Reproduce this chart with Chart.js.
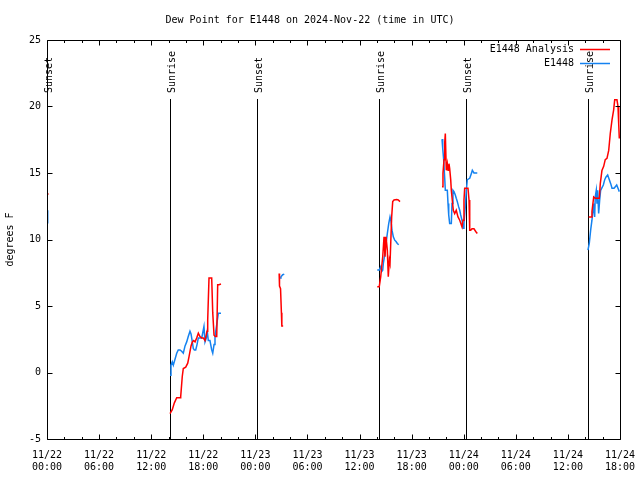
<!DOCTYPE html>
<html>
<head>
<meta charset="utf-8">
<script src="https://cdn.jsdelivr.net/npm/chart.js@4/dist/chart.umd.min.js"></script>
<style>
  html, body { margin: 0; padding: 0; background: #fff; }
  #wrap { width: 640px; height: 480px; }
</style>
</head>
<body>
<div id="wrap"><canvas id="dewChart" width="640" height="480"></canvas></div>
<script>
// hours since 11/22 00:00 UTC, null = gap between pieces of data
const analysisHours = [
  0.0, 0.08, null,
  14.17, 14.43, 14.66, 14.94, 15.32, 15.40, 15.58, 15.70, 15.98, 16.21, 16.36, 16.59, 16.74, 16.90, 17.05,
  17.24, 17.43, 17.62, 17.82, 18.00, 18.20, 18.43, 18.51, 18.66, 18.97, 19.09, 19.24, 19.40, 19.55, 19.66, 19.81, 20.04, null,
  26.74, 26.78, 26.90, 27.00, 27.05, 27.20, null,
  38.04, 38.27, 38.44, 38.55, 38.67, 38.82, 38.93, 39.05, 39.20, 39.31, 39.43, 39.51, 39.70, 39.82, 39.97, 40.28, 40.46, 40.66, null,
  45.50, 45.61, 45.73, 45.81, 45.88, 45.99, 46.11, 46.19, 46.30, 46.38, 46.50, 46.57, 46.68, 46.80, 46.96, 47.14, 47.34, 47.54,
  47.80, 47.92, 48.03, 48.11, 48.30, 48.49, 48.61, 48.69, 48.80, 48.95, 49.18, 49.38, 49.56, null,
  62.39, 62.66, 62.77, 62.97, 63.15, 63.35, 63.61, 63.73, 63.92, 64.12, 64.30, 64.50, 64.70, 64.88, 65.08, 65.27, 65.39, 65.65,
  65.77, 65.85, 65.92
];
const analysisValues = [
  13.4, 13.5, null,
  -3.1, -2.8, -2.3, -1.9, -1.9, -1.8, -0.3, 0.3, 0.4, 0.7, 1.2, 2.0, 2.3, 2.4, 2.3,
  2.6, 2.95, 2.7, 2.6, 2.6, 2.4, 3.1, 3.95, 7.1, 7.1, 4.5, 2.8, 2.7, 2.7, 6.6, 6.6, 6.65, null,
  7.45, 6.5, 6.3, 4.5, 3.5, 3.5, null,
  6.45, 6.45, 7.2, 7.95, 8.7, 10.2, 8.7, 10.2, 9.2, 7.2, 8.45, 8.2, 11.7, 12.85, 12.97, 13.0, 12.97, 12.85, null,
  13.97, 14.97, 16.0, 17.3, 17.97, 15.2, 15.7, 15.2, 15.7, 15.35, 14.5, 13.7, 12.97, 12.2, 11.95, 12.2, 11.7, 11.45,
  10.95, 11.45, 12.97, 13.85, 13.85, 13.85, 12.97, 10.7, 10.7, 10.8, 10.8, 10.6, 10.45, null,
  11.7, 11.7, 12.1, 13.2, 13.1, 13.1, 13.1, 14.2, 15.2, 15.5, 16.0, 16.1, 16.7, 17.97, 19.0, 19.75, 20.5, 20.5,
  20.0, 18.7, 17.6
];

const obsHours = [
  0.0, 0.08, null,
  14.17, 14.28, 14.43, 14.55, 14.94, 15.12, 15.32, 15.51, 15.70, 15.90, 16.09, 16.27, 16.47, 16.59, 16.74, 16.85, 16.97,
  17.13, 17.28, 17.43, 17.62, 17.82, 17.93, 18.08, 18.20, 18.35, 18.46, 18.58, 18.77, 18.97, 19.09, 19.24, 19.35, 19.55,
  19.73, 20.04, null,
  26.84, 26.95, 27.15, 27.33, null,
  38.04, 38.27, 38.44, 38.55, 38.67, 38.74, 38.93, 39.05, 39.20, 39.36, 39.51, 39.63, 39.74, 39.89, 40.05, 40.20, 40.35, 40.51, null,
  45.50, 45.58, 45.69, 45.81, 45.88, 46.11, 46.19, 46.27, 46.38, 46.57, 46.65, 46.76, 46.88, 47.03, 47.14, 47.26, 47.42, 47.54,
  47.65, 47.80, 47.92, 48.03, 48.18, 48.30, 48.41, 48.69, 48.87, 48.99, 49.18, 49.56, null,
  62.31, 62.46, 62.62, 62.77, 62.89, 62.97, 63.08, 63.15, 63.27, 63.35, 63.43, 63.54, 63.66, 63.77, 64.08, 64.24, 64.39, 64.58,
  64.77, 64.93, 65.08, 65.31, 65.46, 65.62, 65.77, 65.92
];
const obsValues = [
  12.2, 11.2, null,
  -0.2, 0.55, 0.8, 0.55, 1.45, 1.7, 1.7, 1.6, 1.45, 2.0, 2.3, 2.7, 3.1, 2.9, 2.3, 1.8, 1.7,
  1.7, 2.1, 2.6, 2.6, 2.6, 2.95, 3.45, 2.3, 2.6, 3.1, 2.4, 2.4, 1.7, 1.45, 2.1, 2.7, 3.6,
  4.45, 4.45, null,
  7.1, 7.2, 7.35, 7.4, null,
  7.7, 7.7, 7.95, 7.6, 7.7, 8.2, 8.95, 9.7, 10.45, 11.2, 11.7, 11.35, 10.7, 10.2, 9.95, 9.85, 9.7, 9.6, null,
  17.55, 16.85, 16.0, 14.6, 13.7, 13.7, 12.7, 11.85, 11.2, 11.2, 12.7, 13.7, 13.6, 13.35, 13.1, 12.85, 12.45, 12.2,
  11.85, 11.45, 10.85, 11.2, 12.45, 13.7, 14.5, 14.6, 14.95, 15.2, 15.0, 15.0, null,
  9.2, 9.7, 10.7, 11.45, 12.2, 12.7, 11.7, 13.2, 13.7, 12.7, 13.7, 11.95, 12.97, 13.7, 14.1, 14.5, 14.7, 14.85,
  14.5, 14.2, 13.85, 13.85, 13.97, 14.1, 13.85, 13.6
];

// sunrise / sunset markers
const eventHours = [0.05, 14.17, 24.19, 38.24, 48.26, 62.31];
const eventLabels = ['Sunset', 'Sunrise', 'Sunset', 'Sunrise', 'Sunset', 'Sunrise'];

const xTickDates = ['11/22', '11/22', '11/22', '11/22', '11/23', '11/23', '11/23', '11/23', '11/24', '11/24', '11/24', '11/24'];
const xTickTimes = ['00:00', '06:00', '12:00', '18:00', '00:00', '06:00', '12:00', '18:00', '00:00', '06:00', '12:00', '18:00'];

const monoFont = 'DejaVu Sans Mono';
const redColor = '#ff0000';
const blueColor = 'rgb(20,130,240)';

function toPoints(hours, values) {
  return hours.map((h, i) => ({ x: h === null ? NaN : h, y: values[i] }));
}

// sunrise/sunset lines under the data
const eventPlugin = {
  id: 'events',
  beforeDatasetsDraw(chart) {
    const ctx = chart.ctx;
    const area = chart.chartArea;
    const xs = chart.scales.x;
    ctx.save();
    ctx.strokeStyle = '#000';
    ctx.lineWidth = 1;
    ctx.fillStyle = '#000';
    ctx.font = '10px "' + monoFont + '"';
    eventHours.forEach((h, i) => {
      const px = Math.round(xs.getPixelForValue(h)) + 0.5;
      ctx.beginPath();
      ctx.moveTo(px, area.top + 59);
      ctx.lineTo(px, area.bottom);
      ctx.stroke();
      ctx.save();
      ctx.translate(px + 2, area.top + 53);
      ctx.rotate(-Math.PI / 2);
      ctx.textAlign = 'left';
      ctx.textBaseline = 'middle';
      ctx.fillText(eventLabels[i], 0, 0);
      ctx.restore();
    });
    ctx.restore();
  }
};

// gnuplot style border, inward ticks and legend
const framePlugin = {
  id: 'frame',
  afterDraw(chart) {
    const ctx = chart.ctx;
    const a = chart.chartArea;
    const xs = chart.scales.x;
    const ys = chart.scales.y;
    ctx.save();
    ctx.strokeStyle = '#000';
    ctx.lineWidth = 1;
    const L = Math.round(a.left) + 0.5, R = Math.round(a.right) + 0.5;
    const T = Math.round(a.top) + 0.5, B = Math.round(a.bottom) + 0.5;
    ctx.beginPath();
    ctx.rect(L, T, R - L, B - T);
    for (let h = 0; h <= 66; h += 2) {
      const px = Math.round(xs.getPixelForValue(h)) + 0.5;
      const len = h % 6 === 0 ? 5 : 2.5;
      ctx.moveTo(px, B); ctx.lineTo(px, B - len);
      ctx.moveTo(px, T); ctx.lineTo(px, T + len);
    }
    for (let v = -5; v <= 25; v += 5) {
      const py = Math.round(ys.getPixelForValue(v)) + 0.5;
      ctx.moveTo(L, py); ctx.lineTo(L + 5, py);
      ctx.moveTo(R, py); ctx.lineTo(R - 5, py);
    }
    ctx.stroke();

    // legend, top right inside the plot
    ctx.font = '10px "' + monoFont + '"';
    ctx.textAlign = 'right';
    ctx.textBaseline = 'middle';
    const swatch = [redColor, blueColor];
    chart.data.datasets.forEach((ds, i) => {
      const y = Math.round(a.top + 9 + i * 13.5);
      ctx.fillStyle = '#000';
      ctx.fillText(ds.label, a.right - 46, y);
      ctx.strokeStyle = swatch[i];
      ctx.lineWidth = 1.5;
      ctx.beginPath();
      ctx.moveTo(a.right - 40, y + 0.5);
      ctx.lineTo(a.right - 10, y + 0.5);
      ctx.stroke();
    });
    ctx.restore();
  }
};

new Chart(document.getElementById('dewChart'), {
  type: 'line',
  data: {
    datasets: [
      {
        label: 'E1448 Analysis',
        data: toPoints(analysisHours, analysisValues),
        borderColor: redColor,
        borderWidth: 1.5,
        pointRadius: 0,
        tension: 0,
        spanGaps: false
      },
      {
        label: 'E1448',
        data: toPoints(obsHours, obsValues),
        borderColor: blueColor,
        borderWidth: 1.5,
        pointRadius: 0,
        tension: 0,
        spanGaps: false
      }
    ]
  },
  options: {
    responsive: false,
    animation: false,
    events: [],
    layout: { padding: { left: 0, right: 20, top: 0, bottom: 0 } },
    plugins: {
      legend: { display: false },
      tooltip: { enabled: false },
      title: {
        display: true,
        text: 'Dew Point for E1448 on 2024-Nov-22 (time in UTC)',
        color: '#000',
        font: { family: monoFont, size: 10, weight: 'normal' },
        padding: { top: 14, bottom: 14 }
      }
    },
    scales: {
      x: {
        type: 'linear',
        min: 0,
        max: 66,
        grid: { display: false, drawTicks: false },
        border: { display: false },
        ticks: {
          stepSize: 6,
          autoSkip: false,
          maxRotation: 0,
          padding: 10,
          color: '#000',
          font: { family: monoFont, size: 10 },
          callback: (v, i) => [xTickDates[i], xTickTimes[i]]
        },
        afterFit: (s) => { s.height = 41; s.paddingLeft = 0; s.paddingRight = 0; }
      },
      y: {
        min: -5,
        max: 25,
        grid: { display: false, drawTicks: false },
        border: { display: false },
        ticks: {
          stepSize: 5,
          padding: 6,
          color: '#000',
          font: { family: monoFont, size: 10 }
        },
        title: {
          display: true,
          text: 'degrees F',
          color: '#000',
          font: { family: monoFont, size: 10 },
          padding: { top: 4, bottom: 0 }
        },
        afterFit: (s) => { s.width = 47; s.paddingTop = 0; s.paddingBottom = 0; }
      }
    }
  },
  plugins: [eventPlugin, framePlugin]
});
</script>
</body>
</html>
